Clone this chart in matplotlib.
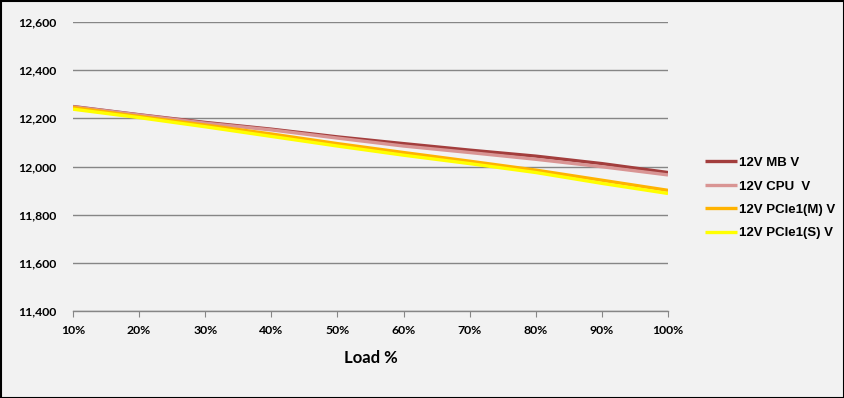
import matplotlib
matplotlib.use("Agg")
import matplotlib.pyplot as plt
from matplotlib.patches import Rectangle

loads = ["10%", "20%", "30%", "40%", "50%", "60%", "70%", "80%", "90%", "100%"]
mb_v = [12249, 12215, 12183, 12155, 12123, 12095, 12068, 12043, 12012, 11975]
cpu_v = [12248, 12214, 12180, 12152, 12118, 12085, 12058, 12030, 11999, 11965]
pcie_m_v = [12245, 12208, 12172, 12135, 12095, 12058, 12022, 11985, 11943, 11901]
pcie_s_v = [12238, 12203, 12165, 12125, 12085, 12047, 12012, 11975, 11930, 11888]
series_names = ["12V MB V", "12V CPU  V", "12V PCIe1(M) V", "12V PCIe1(S) V"]
colors = ["#A33E3D", "#D99594", "#FFB300", "#FFFF00"]
y_ticks = [11400, 11600, 11800, 12000, 12200, 12400, 12600]

W, H = 845, 398
fig = plt.figure(figsize=(W / 100, H / 100), dpi=100)
bg = "#F2F2F2"
fig.patch.set_facecolor(bg)
ax = fig.add_axes([73 / W, 1 - 311 / H, (668 - 73) / W, (311 - 22) / H])
ax.set_facecolor(bg)

xs = list(range(len(loads)))
for vals, name, c in zip([mb_v, cpu_v, pcie_m_v, pcie_s_v], series_names, colors):
    ax.plot(xs, vals, color=c, lw=2.4, label=name, solid_capstyle="butt")

ax.set_xlim(0, len(loads) - 1)
ax.set_ylim(11400, 12600)
ax.set_yticks(y_ticks)
ax.set_yticklabels([f"{v:,}" for v in y_ticks])
ax.set_xticks(xs)
ax.set_xticklabels(loads)
ax.yaxis.grid(True, color="#868686", lw=1)
ax.set_axisbelow(True)
for s in ["top", "right", "left"]:
    ax.spines[s].set_visible(False)
ax.spines["bottom"].set_color("#868686")
ax.spines["bottom"].set_linewidth(1)
ax.tick_params(axis="y", length=0, pad=12)
ax.tick_params(axis="x", length=4, color="#868686", pad=6, direction="out")
for lab in ax.get_xticklabels() + ax.get_yticklabels():
    lab.set_fontfamily("Lato")
    lab.set_fontweight("bold")
    lab.set_fontsize(8.8)

ax.set_xlabel("Load %", fontfamily="Lato", fontweight="bold", fontsize=12, labelpad=10)

leg = fig.legend(loc="upper left", bbox_to_anchor=(693 / W, 1 - 145 / H), frameon=False,
                 prop={"family": "Liberation Sans", "weight": "bold", "size": 9.5},
                 handlelength=2.4, handletextpad=0.2, labelspacing=0.85)

fig.add_artist(Rectangle((0.5 / W, 0.5 / H), 1 - 1.5 / W, 1 - 1.5 / H, transform=fig.transFigure,
                         fill=False, edgecolor="black", lw=1.5))

fig.savefig("out.png", dpi=100, facecolor=bg)
